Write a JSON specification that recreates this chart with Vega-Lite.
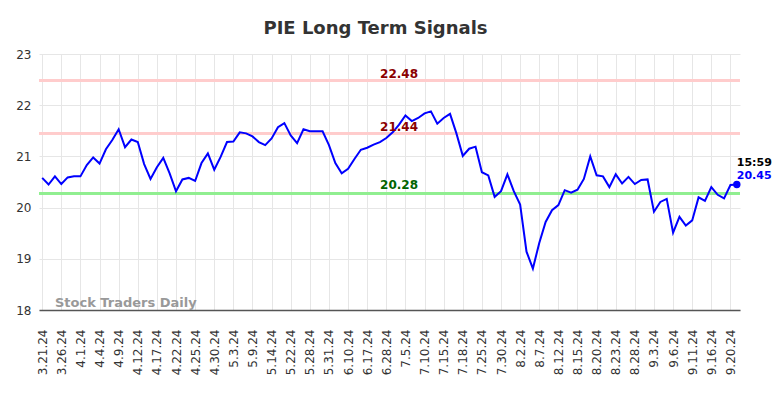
{
  "$schema": "https://vega.github.io/schema/vega-lite/v6.json",
  "width": 701,
  "height": 256,
  "autosize": {"type": "none"},
  "padding": {"left": 39, "top": 54, "right": 44, "bottom": 88},
  "background": "white",
  "title": {
    "text": "PIE Long Term Signals",
    "fontSize": 18,
    "fontWeight": "bold",
    "color": "#333333",
    "font": "DejaVu Sans",
    "frame": "group",
    "anchor": "middle",
    "baseline": "alphabetic",
    "offset": -4,
    "dx": -14
  },
  "config": {
    "view": {"stroke": null},
    "font": "DejaVu Sans"
  },
  "data": {
    "values": [
      {"d": "3.21.24", "v": 20.58}, {"d": "3.22.24", "v": 20.45}, {"d": "3.25.24", "v": 20.61},
      {"d": "3.26.24", "v": 20.46}, {"d": "3.27.24", "v": 20.59}, {"d": "3.28.24", "v": 20.61},
      {"d": "4.1.24", "v": 20.61}, {"d": "4.2.24", "v": 20.83}, {"d": "4.3.24", "v": 20.98},
      {"d": "4.4.24", "v": 20.86}, {"d": "4.5.24", "v": 21.14}, {"d": "4.8.24", "v": 21.32},
      {"d": "4.9.24", "v": 21.53}, {"d": "4.10.24", "v": 21.18}, {"d": "4.11.24", "v": 21.33},
      {"d": "4.12.24", "v": 21.28}, {"d": "4.15.24", "v": 20.85}, {"d": "4.16.24", "v": 20.56},
      {"d": "4.17.24", "v": 20.79}, {"d": "4.18.24", "v": 20.97}, {"d": "4.19.24", "v": 20.67},
      {"d": "4.22.24", "v": 20.32}, {"d": "4.23.24", "v": 20.55}, {"d": "4.24.24", "v": 20.58},
      {"d": "4.25.24", "v": 20.52}, {"d": "4.26.24", "v": 20.87}, {"d": "4.29.24", "v": 21.06},
      {"d": "4.30.24", "v": 20.74}, {"d": "5.1.24", "v": 20.99}, {"d": "5.2.24", "v": 21.28},
      {"d": "5.3.24", "v": 21.29}, {"d": "5.6.24", "v": 21.47}, {"d": "5.8.24", "v": 21.45},
      {"d": "5.9.24", "v": 21.39}, {"d": "5.10.24", "v": 21.28}, {"d": "5.13.24", "v": 21.22},
      {"d": "5.14.24", "v": 21.35}, {"d": "5.16.24", "v": 21.57}, {"d": "5.20.24", "v": 21.65},
      {"d": "5.22.24", "v": 21.41}, {"d": "5.23.24", "v": 21.26}, {"d": "5.24.24", "v": 21.53},
      {"d": "5.28.24", "v": 21.49}, {"d": "5.29.24", "v": 21.49}, {"d": "5.30.24", "v": 21.49},
      {"d": "5.31.24", "v": 21.22}, {"d": "6.4.24", "v": 20.87}, {"d": "6.6.24", "v": 20.67},
      {"d": "6.10.24", "v": 20.76}, {"d": "6.12.24", "v": 20.95}, {"d": "6.14.24", "v": 21.13},
      {"d": "6.17.24", "v": 21.17}, {"d": "6.21.24", "v": 21.23}, {"d": "6.25.24", "v": 21.28},
      {"d": "6.28.24", "v": 21.36}, {"d": "7.1.24", "v": 21.47}, {"d": "7.3.24", "v": 21.62},
      {"d": "7.5.24", "v": 21.80}, {"d": "7.8.24", "v": 21.69}, {"d": "7.9.24", "v": 21.75},
      {"d": "7.10.24", "v": 21.84}, {"d": "7.11.24", "v": 21.88}, {"d": "7.12.24", "v": 21.64},
      {"d": "7.15.24", "v": 21.75}, {"d": "7.16.24", "v": 21.83}, {"d": "7.17.24", "v": 21.45},
      {"d": "7.18.24", "v": 21.01}, {"d": "7.22.24", "v": 21.15}, {"d": "7.23.24", "v": 21.19},
      {"d": "7.25.24", "v": 20.69}, {"d": "7.26.24", "v": 20.63}, {"d": "7.29.24", "v": 20.21},
      {"d": "7.30.24", "v": 20.32}, {"d": "7.31.24", "v": 20.65}, {"d": "8.1.24", "v": 20.32},
      {"d": "8.2.24", "v": 20.06}, {"d": "8.5.24", "v": 19.14}, {"d": "8.6.24", "v": 18.81},
      {"d": "8.7.24", "v": 19.31}, {"d": "8.8.24", "v": 19.72}, {"d": "8.9.24", "v": 19.95},
      {"d": "8.12.24", "v": 20.05}, {"d": "8.13.24", "v": 20.34}, {"d": "8.14.24", "v": 20.29},
      {"d": "8.15.24", "v": 20.35}, {"d": "8.16.24", "v": 20.56}, {"d": "8.19.24", "v": 21.00},
      {"d": "8.20.24", "v": 20.63}, {"d": "8.21.24", "v": 20.61}, {"d": "8.22.24", "v": 20.40},
      {"d": "8.23.24", "v": 20.65}, {"d": "8.26.24", "v": 20.47}, {"d": "8.27.24", "v": 20.60},
      {"d": "8.28.24", "v": 20.46}, {"d": "8.29.24", "v": 20.54}, {"d": "8.30.24", "v": 20.55},
      {"d": "9.3.24", "v": 19.92}, {"d": "9.4.24", "v": 20.11}, {"d": "9.5.24", "v": 20.17},
      {"d": "9.6.24", "v": 19.51}, {"d": "9.9.24", "v": 19.82}, {"d": "9.10.24", "v": 19.65},
      {"d": "9.11.24", "v": 19.75}, {"d": "9.12.24", "v": 20.20}, {"d": "9.13.24", "v": 20.13},
      {"d": "9.16.24", "v": 20.40}, {"d": "9.17.24", "v": 20.25}, {"d": "9.18.24", "v": 20.18},
      {"d": "9.20.24", "v": 20.44}, {"d": "9.23.24", "v": 20.45}
    ]
  },
  "encoding": {
    "x": {
      "field": "d",
      "type": "ordinal",
      "sort": null,
      "scale": {"type": "point", "padding": 0.5},
      "axis": {
        "title": null,
        "values": ["3.21.24", "3.26.24", "4.1.24", "4.4.24", "4.9.24", "4.12.24", "4.17.24", "4.22.24", "4.25.24", "4.30.24", "5.3.24", "5.9.24", "5.14.24", "5.22.24", "5.28.24", "5.31.24", "6.10.24", "6.17.24", "6.28.24", "7.5.24", "7.10.24", "7.15.24", "7.18.24", "7.25.24", "7.30.24", "8.2.24", "8.7.24", "8.12.24", "8.15.24", "8.20.24", "8.23.24", "8.28.24", "9.3.24", "9.6.24", "9.11.24", "9.16.24", "9.20.24"],
        "labelAngle": -90,
        "labelAlign": "right",
        "labelBaseline": "middle",
        "labelFontSize": 12,
        "labelColor": "#333333",
        "labelPadding": 19,
        "labelOverlap": false,
        "ticks": false,
        "grid": true,
        "gridColor": "#e6e6e6",
        "gridWidth": 1,
        "domainColor": "#555555",
        "domainWidth": 1.5
      }
    }
  },
  "layer": [
    {
      "mark": {"type": "rule", "color": "#ffcccc", "strokeWidth": 2},
      "encoding": {"x": null, "y": {"datum": 22.48, "type": "quantitative", "scale": {"domain": [18, 23]}, "axis": {"title": null, "values": [18, 19, 20, 21, 22, 23], "grid": true, "gridColor": "#e6e6e6", "domain": false, "ticks": false, "labelPadding": 8, "labelFontSize": 12, "labelColor": "#333333"}}}
    },
    {
      "mark": {"type": "rule", "color": "#ffcccc", "strokeWidth": 2},
      "encoding": {"x": null, "y": {"datum": 21.44, "type": "quantitative"}}
    },
    {
      "mark": {"type": "rule", "color": "#90ee90", "strokeWidth": 2},
      "encoding": {"x": null, "y": {"datum": 20.28, "type": "quantitative"}}
    },
    {
      "mark": {"type": "line", "color": "#0000ff", "strokeWidth": 2},
      "encoding": {"y": {"field": "v", "type": "quantitative"}}
    },
    {
      "mark": {"type": "circle", "color": "#0000ff", "opacity": 1, "size": 55},
      "encoding": {
        "y": {"field": "v", "type": "quantitative"},
        "opacity": {"condition": {"test": "datum.d === '9.23.24'", "value": 1}, "value": 0}
      }
    },
    {
      "mark": {"type": "text", "align": "left", "baseline": "alphabetic", "dy": -6, "fontSize": 11, "fontWeight": "bold", "color": "#0000ff"},
      "encoding": {
        "y": {"field": "v", "type": "quantitative"},
        "text": {"condition": {"test": "datum.d === '9.23.24'", "field": "v", "format": ".2f"}, "value": ""}
      }
    },
    {
      "mark": {"type": "text", "align": "left", "baseline": "alphabetic", "dy": -19, "fontSize": 11, "fontWeight": "bold", "color": "#000000"},
      "encoding": {
        "y": {"field": "v", "type": "quantitative"},
        "text": {"condition": {"test": "datum.d === '9.23.24'", "value": "15:59"}, "value": ""}
      }
    },
    {
      "mark": {"type": "text", "align": "center", "baseline": "alphabetic", "dy": -3, "fontSize": 12, "fontWeight": "bold", "color": "#8b0000"},
      "encoding": {
        "y": {"datum": 22.48, "type": "quantitative"},
        "text": {"condition": {"test": "datum.d === '7.3.24'", "value": "22.48"}, "value": ""}
      }
    },
    {
      "mark": {"type": "text", "align": "center", "baseline": "alphabetic", "dy": -3, "fontSize": 12, "fontWeight": "bold", "color": "#8b0000"},
      "encoding": {
        "y": {"datum": 21.44, "type": "quantitative"},
        "text": {"condition": {"test": "datum.d === '7.3.24'", "value": "21.44"}, "value": ""}
      }
    },
    {
      "mark": {"type": "text", "align": "center", "baseline": "alphabetic", "dy": -4, "fontSize": 12, "fontWeight": "bold", "color": "#006400"},
      "encoding": {
        "y": {"datum": 20.28, "type": "quantitative"},
        "text": {"condition": {"test": "datum.d === '7.3.24'", "value": "20.28"}, "value": ""}
      }
    },
    {
      "mark": {"type": "text", "align": "left", "baseline": "alphabetic", "dy": -3, "fontSize": 13, "fontWeight": "bold", "color": "#999999"},
      "encoding": {
        "y": {"datum": 18, "type": "quantitative"},
        "text": {"condition": {"test": "datum.d === '3.25.24'", "value": "Stock Traders Daily"}, "value": ""}
      }
    }
  ]
}
